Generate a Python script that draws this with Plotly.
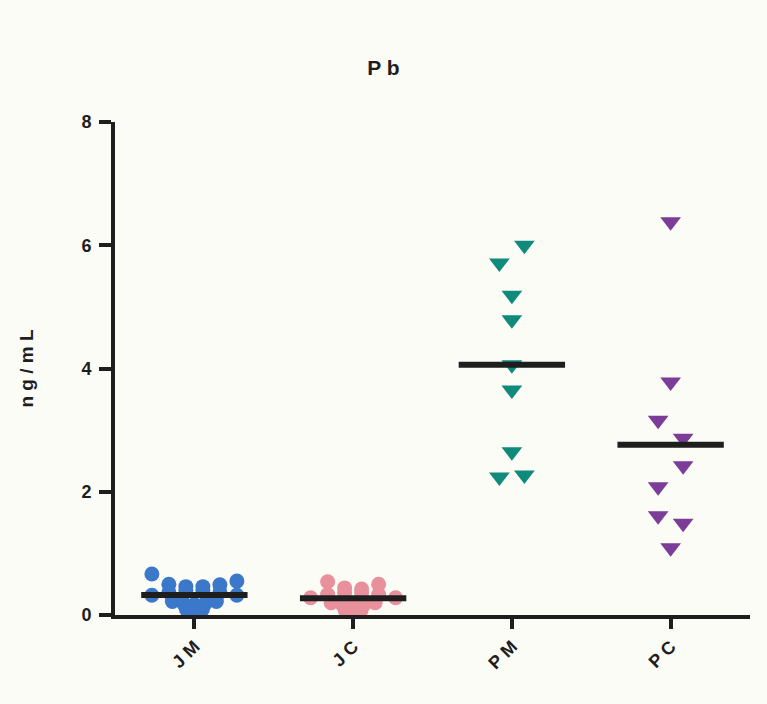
import numpy as np
import plotly.graph_objects as go

# ---------------- data ----------------
CATEGORIES = ["J M", "J C", "P M", "P C"]
JM_VALUES = [0.665, 0.50, 0.46, 0.46, 0.49, 0.55,
             0.32, 0.37, 0.40, 0.40, 0.37, 0.32,
             0.22, 0.19, 0.17, 0.19, 0.22,
             0.09, 0.05, 0.09]
JC_VALUES = [0.54, 0.44, 0.42, 0.50,
             0.28, 0.33, 0.36, 0.36, 0.33, 0.28,
             0.20, 0.17, 0.15, 0.17, 0.20,
             0.08, 0.03, 0.08]
PM_VALUES = [5.71, 6.00, 5.19, 4.79, 4.06, 3.65, 2.65, 2.24, 2.27]
PC_VALUES = [6.38, 3.78, 3.16, 2.87, 2.08, 2.42, 1.61, 1.49, 1.09]
Y_TICKS = [0, 2, 4, 6, 8]

# ---------------- styling / layout ----------------
W, H = 767, 704
M_L, M_R, M_T, M_B = 115, 17, 122, 89
X_RANGE = [-0.5, 3.5]
Y_RANGE = [0, 8]
PX_PER_CAT = (W - M_L - M_R) / (X_RANGE[1] - X_RANGE[0])
PX_PER_UNIT = (H - M_T - M_B) / (Y_RANGE[1] - Y_RANGE[0])

COLORS = ["#3b78c9", "#e8909b", "#0f8a7b", "#7b3d98"]
SYMBOLS = ["circle", "circle", "triangle-down", "triangle-down"]
SIZES = [15, 15, 18, 18]
INK = "#1e1e1e"
BG = "#fcfcf6"
FONT = "Liberation Sans, Arial, sans-serif"

# swarm rows for the dense circle groups (value edges, spacing in px per row)
ROW_EDGES = [0.0, 0.12, 0.24, 0.41, 10.0]
ROW_SPACING_PX = [8, 11, 17, 17]
# chain clustering for the triangle groups
CHAIN_GAP = 0.365
CHAIN_SPACING_PX = 25
MEAN_HALF_WIDTH = 0.335


def row_offsets(values):
    v = np.asarray(values, float)
    rows = np.digitize(v, ROW_EDGES) - 1
    off = np.zeros(len(v))
    for r in np.unique(rows):
        idx = np.where(rows == r)[0]
        n = len(idx)
        s = ROW_SPACING_PX[r] / PX_PER_CAT
        off[idx] = (np.arange(n) - (n - 1) / 2) * s
    return off


def chain_offsets(values):
    v = np.asarray(values, float)
    order = np.argsort(-v)
    clusters, cur = [], [order[0]]
    for a, b in zip(order[:-1], order[1:]):
        if abs(v[a] - v[b]) < CHAIN_GAP:
            cur.append(b)
        else:
            clusters.append(cur)
            cur = [b]
    clusters.append(cur)
    off = np.zeros(len(v))
    s = CHAIN_SPACING_PX / PX_PER_CAT
    for c in clusters:
        c = sorted(c)
        n = len(c)
        for k, i in enumerate(c):
            off[i] = (k - (n - 1) / 2) * s
    return off


groups = [JM_VALUES, JC_VALUES, PM_VALUES, PC_VALUES]
layouts = [row_offsets, row_offsets, chain_offsets, chain_offsets]

fig = go.Figure()
for i, (vals, lay) in enumerate(zip(groups, layouts)):
    off = lay(vals)
    fig.add_trace(go.Scatter(
        x=i + off, y=vals, mode="markers",
        marker=dict(symbol=SYMBOLS[i], size=SIZES[i], color=COLORS[i],
                    line=dict(width=0)),
        name=CATEGORIES[i], showlegend=False, cliponaxis=True))

for i, vals in enumerate(groups):
    m = float(np.mean(vals))
    fig.add_trace(go.Scatter(
        x=[i - MEAN_HALF_WIDTH, i + MEAN_HALF_WIDTH], y=[m, m], mode="lines",
        line=dict(color=INK, width=6), showlegend=False, hoverinfo="skip"))

fig.update_layout(
    width=W, height=H,
    margin=dict(l=M_L, r=M_R, t=M_T, b=M_B),
    paper_bgcolor=BG, plot_bgcolor=BG,
    title=dict(text="P b", x=0.5, xanchor="center", y=1 - 68 / H,
               yanchor="middle", yref="container",
               font=dict(family=FONT, size=21, color=INK, weight="bold")),
    xaxis=dict(range=X_RANGE, tickmode="array", tickvals=list(range(len(CATEGORIES))),
               ticktext=CATEGORIES, tickangle=-45, showgrid=False, zeroline=False,
               showline=True, linewidth=4, linecolor=INK,
               ticks="outside", ticklen=10, tickwidth=4, tickcolor=INK,
               tickfont=dict(family=FONT, size=18, color=INK, weight="bold")),
    yaxis=dict(range=Y_RANGE, tickmode="array", tickvals=Y_TICKS,
               showgrid=False, zeroline=False,
               showline=True, linewidth=4, linecolor=INK,
               ticks="outside", ticklen=12, tickwidth=4, tickcolor=INK,
               ticklabelstandoff=4,
               tickfont=dict(family=FONT, size=18, color=INK, weight="bold"),
               title=dict(text="n g / m L", standoff=44,
                          font=dict(family=FONT, size=19, color=INK, weight="bold"))),
)

fig.write_html("out.html")
